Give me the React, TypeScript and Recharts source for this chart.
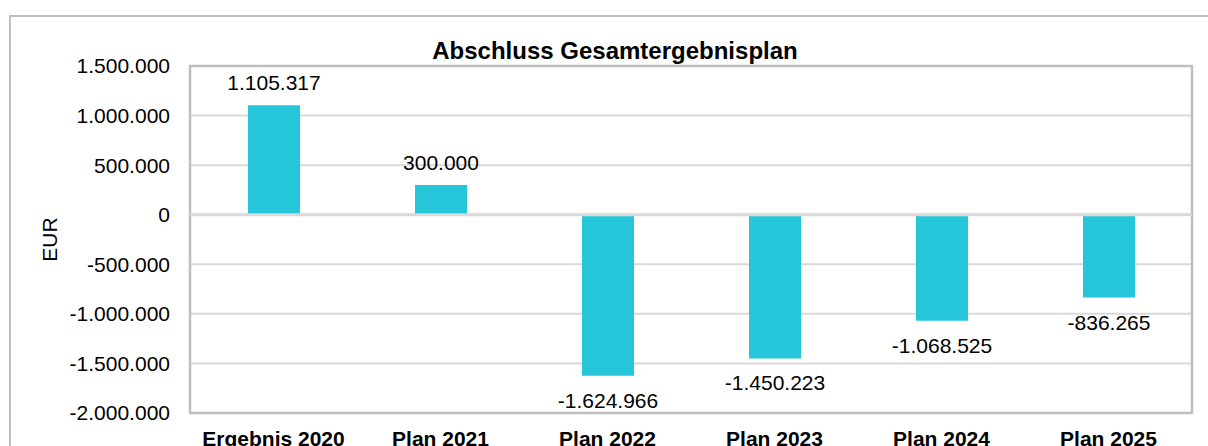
import { BarChart, Bar, XAxis, YAxis, CartesianGrid, LabelList, ReferenceLine, ReferenceArea } from "recharts"

const categories = ["Ergebnis 2020", "Plan 2021", "Plan 2022", "Plan 2023", "Plan 2024", "Plan 2025"]
const values = [1105317, 300000, -1624966, -1450223, -1068525, -836265]
const yTicks = [-2000000, -1500000, -1000000, -500000, 0, 500000, 1000000, 1500000]

const data = categories.map((name, i) => ({ name, value: values[i] }))

const FONT = '"Liberation Sans", Arial, Helvetica, sans-serif'
const BAR_COLOR = "#26C6DA"

// German number format: 1.500.000
const fmt = (v: number) => {
  const s = Math.abs(Math.round(v)).toString().replace(/\B(?=(\d{3})+(?!\d))/g, ".")
  return (v < 0 ? "-" : "") + s
}

function ValueLabel(props: any) {
  const x = Number(props.x)
  const y = Number(props.y)
  const w = Number(props.width)
  const h = Number(props.height)
  const v = Number(props.value)
  const cx = x + w / 2
  // outer end of the bar
  const end = v >= 0 ? Math.min(y, y + h) : Math.max(y, y + h)
  const ty = v >= 0 ? end - 15 : end + 32
  return (
    <text x={cx} y={ty} textAnchor="middle" fontSize={21} fontFamily={FONT} fill="#000">
      {fmt(v)}
    </text>
  )
}

function EurLabel(props: any) {
  const vb = props.viewBox || {}
  const x = vb.x + 39
  const y = vb.y + vb.height / 2
  return (
    <text
      x={x}
      y={y}
      transform={`rotate(-90 ${x} ${y})`}
      textAnchor="middle"
      dominantBaseline="central"
      fontSize={21}
      fontFamily={FONT}
      fill="#000"
    >
      EUR
    </text>
  )
}

export default function App() {
  return (
    <div
      style={{
        position: "absolute",
        left: 0,
        top: 0,
        width: 1208,
        height: 446,
        overflow: "hidden",
        background: "#fff",
        fontFamily: FONT,
      }}
    >
      {/* outer chart frame */}
      <div
        style={{
          position: "absolute",
          left: 9,
          top: 15,
          width: 1240,
          height: 480,
          border: "2.5px solid #c0c0c0",
          boxSizing: "border-box",
        }}
      />
      <div
        style={{
          position: "absolute",
          left: 0,
          top: 39,
          width: 1230,
          textAlign: "center",
          fontSize: 24,
          lineHeight: "23px",
          fontWeight: "bold",
          color: "#000",
        }}
      >
        Abschluss Gesamtergebnisplan
      </div>
      <div style={{ position: "absolute", left: 0, top: 0 }}>
        <BarChart width={1208} height={446} data={data} margin={{ top: 66, right: 16, left: 10, bottom: 0 }}>
          <CartesianGrid vertical={false} stroke="#d9d9d9" strokeWidth={2} />
          <XAxis
            dataKey="name"
            axisLine={false}
            tickLine={false}
            tickSize={0}
            tickMargin={18}
            height={33}
            interval={0}
            tick={{ fill: "#000", fontSize: 21, fontWeight: "bold", fontFamily: FONT }}
          />
          <YAxis
            width={180}
            domain={[-2000000, 1500000]}
            ticks={yTicks}
            axisLine={false}
            tickLine={false}
            tickSize={0}
            tickMargin={20}
            tickFormatter={fmt}
            tick={{ fill: "#000", fontSize: 21, fontFamily: FONT }}
            label={(p: any) => <EurLabel {...p} />}
          />
          <Bar dataKey="value" fill={BAR_COLOR} barSize={52} isAnimationActive={false}>
            <LabelList dataKey="value" content={ValueLabel} />
          </Bar>
          <ReferenceLine y={0} stroke="#d9d9d9" strokeWidth={3} />
          <ReferenceArea y1={-2000000} y2={1500000} fill="none" stroke="#bfbfbf" strokeWidth={2.5} />
        </BarChart>
      </div>
    </div>
  )
}
